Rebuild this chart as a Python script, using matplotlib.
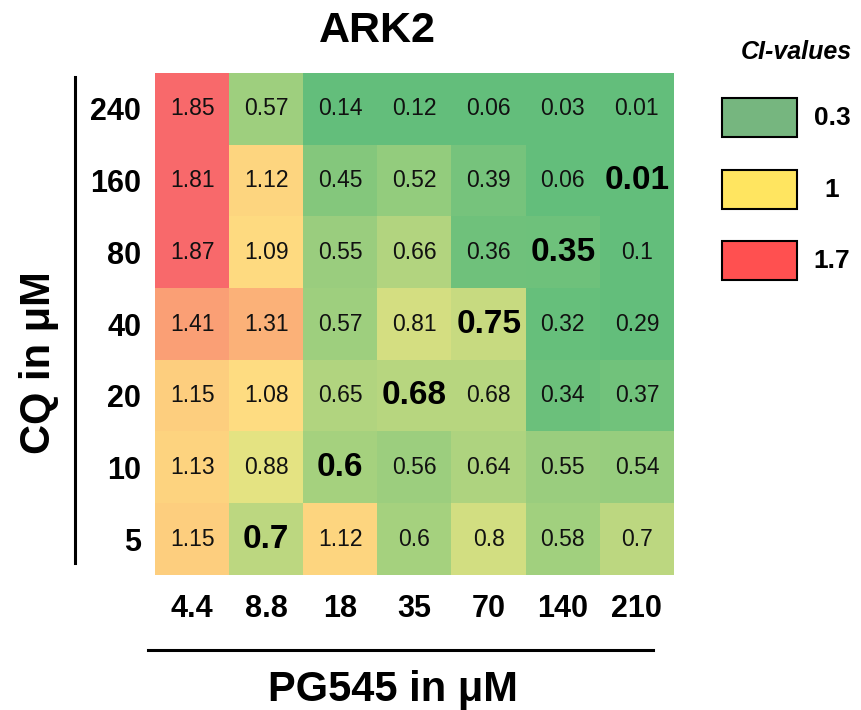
import numpy as np
import matplotlib
matplotlib.use("Agg")
import matplotlib.pyplot as plt
from matplotlib.colors import LinearSegmentedColormap, Normalize
from matplotlib.patches import Rectangle
from matplotlib.lines import Line2D

plt.rcParams['font.family'] = ['Liberation Sans', 'DejaVu Sans']

# ---- data ----
title = "ARK2"
pg545_labels = ["4.4", "8.8", "18", "35", "70", "140", "210"]
cq_labels = ["240", "160", "80", "40", "20", "10", "5"]   # top to bottom
ci_240 = [1.85, 0.57, 0.14, 0.12, 0.06, 0.03, 0.01]
ci_160 = [1.81, 1.12, 0.45, 0.52, 0.39, 0.06, 0.01]
ci_80 = [1.87, 1.09, 0.55, 0.66, 0.36, 0.35, 0.10]
ci_40 = [1.41, 1.31, 0.57, 0.81, 0.75, 0.32, 0.29]
ci_20 = [1.15, 1.08, 0.65, 0.68, 0.68, 0.34, 0.37]
ci_10 = [1.13, 0.88, 0.60, 0.56, 0.64, 0.55, 0.54]
ci_5 = [1.15, 0.70, 1.12, 0.60, 0.80, 0.58, 0.70]
# highlighted (bold) cells: (row index from top, column index)
bold_cells = [(6, 1), (5, 2), (4, 3), (3, 4), (2, 5), (1, 6)]
legend_values = ["0.3", "1", "1.7"]
legend_colors = ["#76B67F", "#FFE560", "#FF5050"]
scale_points = [0.3, 1.0, 1.7]
scale_colors = ["#63BE7B", "#FFEB84", "#F8696B"]

data = np.array([ci_240, ci_160, ci_80, ci_40, ci_20, ci_10, ci_5])

W, H = 861, 710
fig = plt.figure(figsize=(W / 100, H / 100), dpi=100)

def fx(px):
    return px / W

def fy(py):
    return 1 - py / H

ax = fig.add_axes([fx(155), fy(575), (674 - 155) / W, (575 - 73) / H])

cmap = LinearSegmentedColormap.from_list("ci", scale_colors)
cmap.set_under(scale_colors[0])
cmap.set_over(scale_colors[-1])
norm = Normalize(vmin=scale_points[0], vmax=scale_points[-1])
ax.imshow(data, cmap=cmap, norm=norm, aspect='auto', interpolation='nearest')

nr, nc = data.shape
for i in range(nr):
    for j in range(nc):
        v = data[i, j]
        txt = f"{v:g}"
        if (i, j) in bold_cells:
            ax.text(j, i, txt, ha='center', va='center', fontsize=24,
                    fontweight='bold', color='black')
        else:
            ax.text(j, i, txt, ha='center', va='center', fontsize=16.5,
                    color='#111111')

ax.set_xticks(range(nc))
ax.set_xticklabels(pg545_labels, fontsize=22, fontweight='bold')
ax.set_yticks(range(nr))
ax.set_yticklabels(cq_labels, fontsize=22, fontweight='bold')
ax.tick_params(length=0, pad=10)
ax.tick_params(axis='x', pad=14)
for s in ax.spines.values():
    s.set_visible(False)

# title
fig.text(fx(377), fy(31), title, ha='center', va='center', fontsize=31,
         fontweight='bold')

# axis labels and lines
fig.text(fx(393), fy(690), "PG545 in μM", ha='center', va='center',
         fontsize=30, fontweight='bold')
fig.text(fx(39), fy(363), "CQ in μM", ha='center', va='center',
         fontsize=30, fontweight='bold', rotation=90)
fig.add_artist(Line2D([fx(148), fx(653)], [fy(650), fy(650)], color='black',
                      lw=2.2, transform=fig.transFigure))
fig.add_artist(Line2D([fx(75), fx(75)], [fy(77), fy(563)], color='black',
                      lw=2.2, transform=fig.transFigure))

# legend
fig.text(fx(796), fy(52), "CI-values", ha='center', va='center', fontsize=18,
         fontweight='bold', fontstyle='italic')
box_tops = [98, 170, 241]
for top, lab, col in zip(box_tops, legend_values, legend_colors):
    fig.add_artist(Rectangle((fx(722), fy(top + 39)), (797 - 722) / W, 39 / H,
                             facecolor=col, edgecolor='black', lw=1.5,
                             transform=fig.transFigure))
    fig.text(fx(832), fy(top + 20), lab, ha='center', va='center',
             fontsize=19, fontweight='bold')

fig.savefig("out.png", dpi=100)
